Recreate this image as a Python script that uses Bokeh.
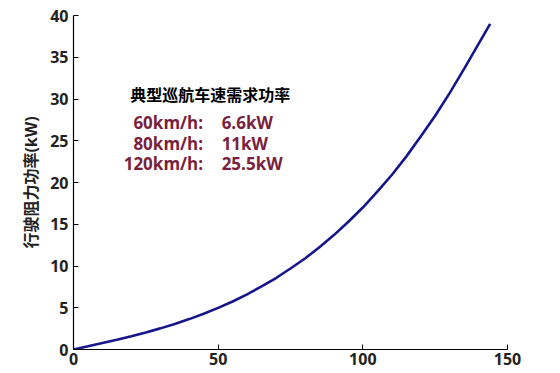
from bokeh.plotting import figure
from bokeh.models import Range1d, FixedTicker, Label, ColumnDataSource
from bokeh.embed import file_html
from bokeh.resources import INLINE

speed_kmh = [0, 5, 10, 15, 20, 25, 30, 35, 40, 45, 50, 55, 60, 65, 70, 75, 80, 85, 90,
             95, 100, 105, 110, 115, 120, 125, 130, 135, 140, 144]
power_kw = [0, 0.38, 0.77, 1.17, 1.59, 2.05, 2.53, 3.06, 3.64, 4.28, 4.98, 5.75, 6.6,
            7.55, 8.56, 9.7, 10.9, 12.25, 13.7, 15.3, 17.0, 18.9, 20.9, 23.1, 25.5,
            28.0, 30.7, 33.6, 36.6, 39.0]

x_ticks = [0, 50, 100, 150]
y_ticks = [0, 5, 10, 15, 20, 25, 30, 35, 40]

title_text = "典型巡航车速需求功率"
cruise_labels = ["60km/h:", "80km/h:", "120km/h:"]
cruise_values = ["6.6kW", "11kW", "25.5kW"]
y_label = "行驶阻力功率(kW)"

FONT = "'Open Sans', 'Noto Sans CJK SC'"

p = figure(width=560, height=373, output_backend="svg", toolbar_location=None,
           x_range=Range1d(0, 150), y_range=Range1d(0, 40),
           min_border_left=73, min_border_right=53, min_border_top=15, min_border_bottom=24)
p.outline_line_color = None
p.xgrid.visible = False
p.ygrid.visible = False
p.background_fill_color = "white"
p.border_fill_color = "white"

src = ColumnDataSource(dict(x=speed_kmh, y=power_kw))
p.line("x", "y", source=src, line_color="#16168a", line_width=2.6)

for ax in (p.xaxis[0], p.yaxis[0]):
    ax.major_tick_in = 5
    ax.major_tick_out = 0
    ax.minor_tick_line_color = None
    ax.axis_line_color = "black"
    ax.axis_line_width = 1.2
    ax.major_tick_line_color = "black"
    ax.major_label_text_font = FONT
    ax.major_label_text_font_style = "bold"
    ax.major_label_text_font_size = "16px"
    ax.major_label_text_color = "#222222"

p.xaxis[0].ticker = FixedTicker(ticks=x_ticks)
p.yaxis[0].ticker = FixedTicker(ticks=y_ticks)
p.xaxis[0].major_label_standoff = 3
p.yaxis[0].major_label_standoff = 5

p.yaxis[0].axis_label = y_label
p.yaxis[0].axis_label_text_font = FONT
p.yaxis[0].axis_label_text_font_style = "bold"
p.yaxis[0].axis_label_text_font_size = "16px"
p.yaxis[0].axis_label_text_color = "#222222"
p.yaxis[0].axis_label_standoff = 5

p.add_layout(Label(x=47.3, y=30.5, text=title_text,
                   text_font=FONT, text_font_style="bold", text_font_size="16px",
                   text_color="black", text_align="center", text_baseline="middle"))

red = "#7a1f3d"
ys = [27.2, 24.7, 22.3]
for lab, val, yy in zip(cruise_labels, cruise_values, ys):
    p.add_layout(Label(x=44.8, y=yy, text=lab,
                       text_font=FONT, text_font_style="bold", text_font_size="17px",
                       text_color=red, text_align="right", text_baseline="middle"))
    p.add_layout(Label(x=51.2, y=yy, text=val,
                       text_font=FONT, text_font_style="bold", text_font_size="17px",
                       text_color=red, text_align="left", text_baseline="middle"))

open("out.html", "w").write(file_html(p, INLINE))
